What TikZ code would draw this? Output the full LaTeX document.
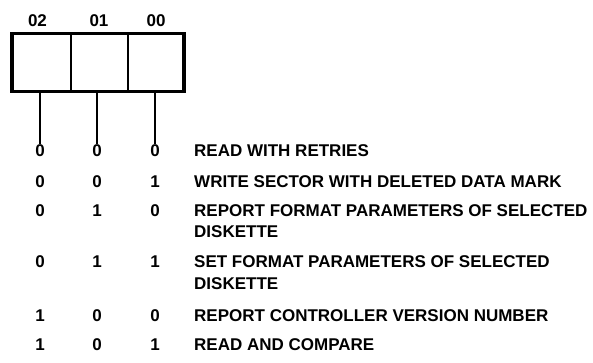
\documentclass[tikz,border=0pt]{standalone}
\usepackage{fontspec}
\setmainfont{Liberation Sans}
\begin{document}
\begin{tikzpicture}[x=1pt,y=-1pt,
  every node/.style={font=\fontsize{17}{20}\selectfont\bfseries, inner sep=0pt},
  cell/.style={draw, line width=1.8pt, minimum width=57.8pt, minimum height=56.4pt},
  wire/.style={line width=1.8pt},
  txt/.style={anchor=west}]
\useasboundingbox[fill=white] (0,0) rectangle (593,362);
% register cells
\node[cell, minimum width=58pt] (c2) at (41.7,62.5) {};
\node[cell, minimum width=57.6pt] (c1) at (99.5,62.5) {};
\node[cell, minimum width=55pt] (c0) at (155.8,62.5) {};
\draw[line width=3pt] (c2.north west) rectangle (c0.south east);
% bit labels
\node (l2) at (37.5,21) {02};
\node (l1) at (99,21) {01};
\node (l0) at (156,21) {00};
% digit table
\foreach \r/\y/\a/\b/\c in {1/151/0/0/0, 2/182/0/0/1, 3/211/0/1/0, 4/262/0/1/1, 5/316/1/0/0, 6/345/1/0/1}{
  \node (d\r a) at (40,\y) {\a};
  \node (d\r b) at (97,\y) {\b};
  \node (d\r c) at (155,\y) {\c};
}
% connectors
\draw[wire] (d1a |- c2.south) -- ([yshift=1pt]d1a.north);
\draw[wire] (d1b |- c1.south) -- ([yshift=1pt]d1b.north);
\draw[wire] (d1c |- c0.south) -- ([yshift=1pt]d1c.north);
% descriptions
\node[txt] (t1) at (194,151) {READ WITH RETRIES};
\node[txt] (t2) at (194,182) {WRITE SECTOR WITH DELETED DATA MARK};
\node[txt] (t3) at (194,211) {REPORT FORMAT PARAMETERS OF SELECTED};
\node[txt] (t3b) at (194,232) {DISKETTE};
\node[txt] (t4) at (194,262) {SET FORMAT PARAMETERS OF SELECTED};
\node[txt] (t4b) at (194,284) {DISKETTE};
\node[txt] (t5) at (194,316) {REPORT CONTROLLER VERSION NUMBER};
\node[txt] (t6) at (194,345) {READ AND COMPARE};
\end{tikzpicture}
\end{document}
